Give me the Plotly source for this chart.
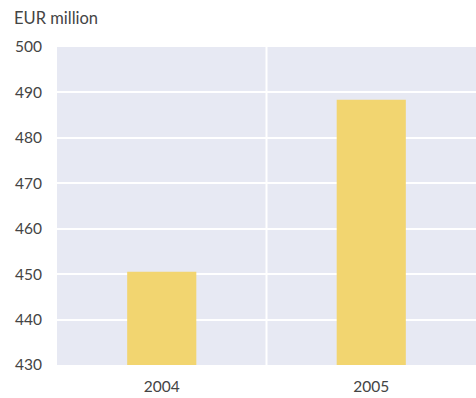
import plotly.graph_objects as go

years = ["2004", "2005"]
values = [450.5, 488.4]
y_ticks = [430, 440, 450, 460, 470, 480, 490, 500]

fig = go.Figure()
fig.add_trace(go.Bar(
    x=list(range(len(years))), y=values, width=0.33,
    marker=dict(color="#f2d570", line=dict(width=0)),
))

fig.add_shape(type="line", xref="x", yref="paper", x0=0.5, x1=0.5, y0=0, y1=1,
              line=dict(color="white", width=2), layer="below")

font = "Lato, Open Sans, sans-serif"
fig.update_layout(
    width=476, height=398,
    margin=dict(l=57, r=0, t=47, b=33),
    paper_bgcolor="white", plot_bgcolor="#e7e9f3",
    showlegend=False,
    font=dict(family=font, color="#444", size=15.5),
    annotations=[dict(text="EUR million", xref="paper", yref="paper", x=-45/419, y=1,
                      xanchor="left", yanchor="bottom", yshift=17, showarrow=False,
                      font=dict(size=16.5, color="#444", family=font))],
)
fig.update_xaxes(range=[-0.5, 1.5], tickvals=list(range(len(years))), ticktext=years,
                 showgrid=False, zeroline=False, showline=False, ticks="",
                 ticklabelstandoff=10)
fig.update_yaxes(range=[430, 500], tickvals=y_ticks, showgrid=True, gridcolor="white",
                 gridwidth=2, zeroline=False, showline=False, ticks="",
                 ticklabelstandoff=14)
fig.write_html("out.html")
